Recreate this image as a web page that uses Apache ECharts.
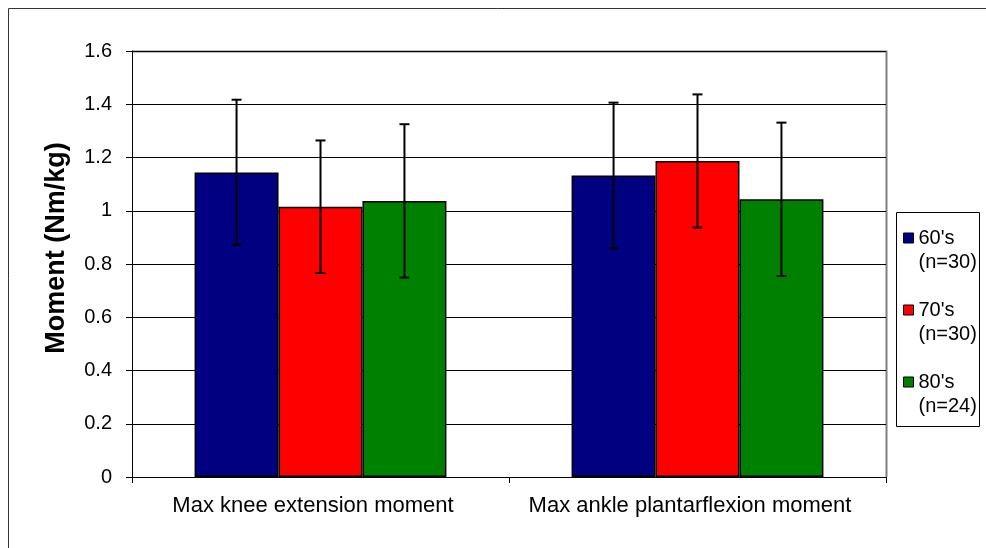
<!DOCTYPE html>
<html>
<head>
<meta charset="utf-8">
<script src="https://cdn.jsdelivr.net/npm/echarts@6/dist/echarts.min.js"></script>
<style>
  html, body { margin: 0; padding: 0; background: #fff; }
  #chart { width: 986px; height: 548px; }
</style>
</head>
<body>
<div id="chart"></div>
<script>
// Joint moments by decade group: mean and standard deviation
const categories = ['Max knee extension moment', 'Max ankle plantarflexion moment'];
const groupNames = ["60's\n(n=30)", "70's\n(n=30)", "80's\n(n=24)"];
const groupColors = ['#000080', '#FF0000', '#008000'];
const mean60 = [1.144, 1.132];
const mean70 = [1.015, 1.187];
const mean80 = [1.037, 1.043];
const sd60 = [0.273, 0.274];
const sd70 = [0.249, 0.250];
const sd80 = [0.288, 0.288];
const yTicks = [0, 0.2, 0.4, 0.6, 0.8, 1, 1.2, 1.4, 1.6];

const means = [mean60, mean70, mean80];
const sds = [sd60, sd70, sd80];
const CAT_GAP = 0.332;
const FONT = 'Liberation Sans, Arial, sans-serif';

const chart = echarts.init(document.getElementById('chart'));

const barSeries = groupNames.map((name, i) => ({
  name: name,
  type: 'bar',
  data: means[i],
  barGap: '0%',
  barCategoryGap: (CAT_GAP * 100) + '%',
  itemStyle: { color: groupColors[i], borderColor: '#000', borderWidth: 1.5 },
  emphasis: { disabled: true },
  z: 2
}));

// Error bars: whiskers of +/- one SD centred on each bar
const errSeries = groupNames.map((name, i) => ({
  type: 'custom',
  name: name + '-err',
  data: means[i].map((m, k) => [k, m - sds[i][k], m + sds[i][k]]),
  z: 5,
  silent: true,
  renderItem: function (params, api) {
    const band = api.size([1, 0])[0];
    const bw = band * (1 - CAT_GAP) / groupNames.length;
    const offset = (i - (groupNames.length - 1) / 2) * bw;
    const lo = api.coord([api.value(0), api.value(1)]);
    const hi = api.coord([api.value(0), api.value(2)]);
    const x = lo[0] + offset;
    const cap = 5;
    const style = { stroke: '#000', lineWidth: 2 };
    return {
      type: 'group',
      children: [
        { type: 'line', shape: { x1: x, y1: hi[1], x2: x, y2: lo[1] }, style: style },
        { type: 'line', shape: { x1: x - cap, y1: hi[1], x2: x + cap, y2: hi[1] }, style: style },
        { type: 'line', shape: { x1: x - cap, y1: lo[1], x2: x + cap, y2: lo[1] }, style: style }
      ]
    };
  }
}));

chart.setOption({
  animation: false,
  backgroundColor: '#fff',
  textStyle: { fontFamily: FONT },
  grid: { left: 132, right: 100, top: 51, bottom: 71, show: false },
  legend: {
    data: groupNames,
    orient: 'vertical',
    left: 903,
    top: 202,
    padding: 0,
    itemGap: 0,
    itemWidth: 10,
    itemHeight: 10,
    icon: 'rect',
    selectedMode: false,
    // a blank first line keeps the swatch level with the group name
    formatter: name => ' \n' + name,
    itemStyle: { borderColor: '#000', borderWidth: 1 },
    textStyle: { fontFamily: FONT, fontSize: 20, color: '#000', lineHeight: 24 }
  },
  xAxis: {
    type: 'category',
    data: categories,
    axisLine: { lineStyle: { color: '#000', width: 1 } },
    axisTick: { show: true, length: 6, lineStyle: { color: '#000' } },
    axisLabel: { interval: 0, fontSize: 22, color: '#000', margin: 18, fontFamily: FONT, padding: [0, 15, 0, 0] },
    splitLine: { show: false }
  },
  yAxis: {
    type: 'value',
    min: 0,
    max: 1.6,
    interval: 0.2,
    name: 'Moment (Nm/kg)',
    nameLocation: 'middle',
    nameGap: 62,
    nameRotate: 90,
    nameTextStyle: { fontSize: 27, fontWeight: 'bold', color: '#000', fontFamily: FONT, padding: [0, 0, 0, 32] },
    axisLine: { show: true, lineStyle: { color: '#000', width: 1 } },
    axisTick: { show: true, inside: false, length: 6, lineStyle: { color: '#000' } },
    axisLabel: {
      fontSize: 20, color: '#000', margin: 20, fontFamily: FONT,
      formatter: v => {
        const t = yTicks.find(y => Math.abs(y - v) < 1e-9);
        return t === undefined ? '' : String(t);
      }
    },
    splitLine: { show: true, lineStyle: { color: '#000', width: 1 } }
  },
  graphic: [
    // outer chart frame
    { type: 'rect', silent: true, z: -10, shape: { x: 8.5, y: 8.5, width: 1200, height: 800 },
      style: { fill: 'none', stroke: '#333', lineWidth: 1 } },
    // plot area: grey top and right edges
    { type: 'polyline', silent: true, z: 0, shape: { points: [[132, 51.5], [886.5, 51.5], [886.5, 477]] },
      style: { fill: 'none', stroke: '#808080', lineWidth: 2 } },
    // legend box
    { type: 'rect', silent: true, z: 0, shape: { x: 896.5, y: 212.5, width: 83, height: 214 },
      style: { fill: 'none', stroke: '#000', lineWidth: 1 } }
  ],
  series: barSeries.concat(errSeries)
});
</script>
</body>
</html>
